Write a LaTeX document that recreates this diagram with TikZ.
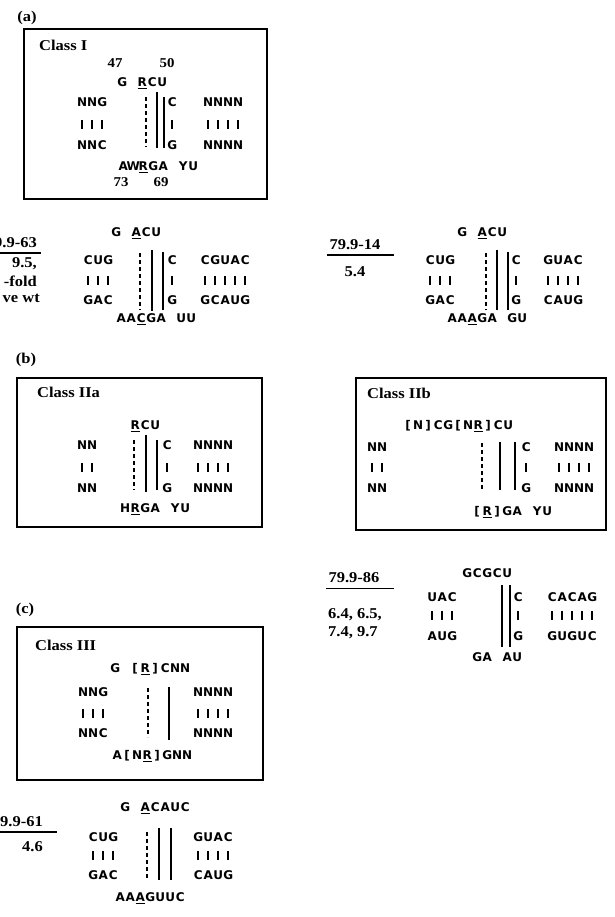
\documentclass[tikz,border=0pt]{standalone}
\usepackage{fontspec}
\usepackage{tikz}
\newfontfamily\seqfont{DejaVu Sans}
\newfontfamily\labfont{Liberation Serif}[FakeStretch=1.1]
% one letter = one cell, so the pair ticks line up under the bases
\newlength\cw \setlength\cw{10pt}
\def\sqstop{\sqstop}
\def\sqloop#1{\ifx\sqstop#1\else\makebox[\cw]{#1}\expandafter\sqloop\fi}
\newcommand\sq[1]{\sqloop#1\sqstop}
\newcommand\tk{\rule[-0.3pt]{2pt}{9pt}}
\newcommand\uln[1]{\setbox0\hbox{#1}\rlap{\rule[-2.6pt]{\wd0}{1.2pt}}\box0}

\begin{document}
\begin{tikzpicture}[x=1pt, y=-1pt,
  seq/.style={font=\seqfont\bfseries\fontsize{12}{14}\selectfont, inner sep=0pt, anchor=west,
    text height=8.7pt, text depth=0pt},
  lab/.style={font=\labfont\bfseries\fontsize{15}{17}\selectfont, inner sep=0pt},
  num/.style={lab, font=\labfont\bfseries\fontsize{13.5}{15}\selectfont},
  frame/.style={draw, line width=1.8pt},
  dotbar/.style={line width=2.4pt, dash pattern=on 4pt off 3pt},
  bar/.style={line width=2pt},
  uline/.style={line width=1.6pt}
]
  \useasboundingbox (0,0) rectangle (614,917);
  \clip (0,0) rectangle (614,917);

  % ---------- (a) ----------
  \node[lab] (pa) at (27,18) {(a)};
  \draw[frame] (24,29) rectangle (267,199);
  \node[lab, anchor=west] (clI) at (39,45) {Class I};
  \node[num] (n47) at (115,63) {47};
  \node[num] (n50) at (167,63) {50};
  \node[seq] (iT) at (117,82) {\sq{G~{\uln R}CU}};
  \node[seq] (iL1) at (77,102) {\sq{NNG}};
  \node[seq] (iM1) at (167,102) {\sq{C}};
  \node[seq] (iR1) at (203,102) {\sq{NNNN}};
  \node[seq] (iL2) at (77,124) {\sq{\tk\tk\tk}};
  \node[seq] (iM2) at (167,124) {\sq{\tk}};
  \node[seq] (iR2) at (203,124) {\sq{\tk\tk\tk\tk}};
  \node[seq] (iL3) at (77,145) {\sq{NNC}};
  \node[seq] (iM3) at (167,145) {\sq{G}};
  \node[seq] (iR3) at (203,145) {\sq{NNNN}};
  \node[seq] (iB) at (118,166) {\sq{AW{\uln R}GA~YU}};
  \node[num] (n73) at (121,182) {73};
  \node[num] (n69) at (161,182) {69};
  \draw[dotbar] (146,97) -- (146,147);
  \draw[bar] (157,92) -- (157,148);
  \draw[bar] (164,97) -- (164,148);

  % mutant 79.9-63
  \node[lab, anchor=east] (m63) at (37,243) {79.9-63};
  \draw[uline] ([xshift=-2pt,yshift=-5pt]m63.south west) -- ([xshift=4pt,yshift=-5pt]m63.south east);
  \node[lab, anchor=east] (m63a) at (37,264) {9.5,};
  \node[lab, anchor=east] (m63b) at (37,281) {-fold};
  \node[lab, anchor=east] (m63c) at (40,298) {ve wt};
  \node[seq] (bT) at (111,232) {\sq{G~{\uln A}CU}};
  \node[seq] (bL1) at (83,260) {\sq{CUG}};
  \node[seq] (bM1) at (167,260) {\sq{C}};
  \node[seq] (bR1) at (200,260) {\sq{CGUAC}};
  \node[seq] (bL2) at (83,280) {\sq{\tk\tk\tk}};
  \node[seq] (bM2) at (167,280) {\sq{\tk}};
  \node[seq] (bR2) at (200,280) {\sq{\tk\tk\tk\tk\tk}};
  \node[seq] (bL3) at (83,300) {\sq{GAC}};
  \node[seq] (bM3) at (167,300) {\sq{G}};
  \node[seq] (bR3) at (200,300) {\sq{GCAUG}};
  \node[seq] (bB) at (116,318) {\sq{AA{\uln C}GA~UU}};
  \draw[dotbar] (140,253) -- (140,310);
  \draw[bar] (152,250) -- (152,311);
  \draw[bar] (163,252) -- (163,310);

  % mutant 79.9-14
  \node[lab] (m14) at (355,245) {79.9-14};
  \draw[uline] ([xshift=-2pt,yshift=-5pt]m14.south west) -- ([xshift=13pt,yshift=-5pt]m14.south east);
  \node[lab] (m14a) at (355,272) {5.4};
  \node[seq] (cT) at (457,232) {\sq{G~{\uln A}CU}};
  \node[seq] (cL1) at (425,260) {\sq{CUG}};
  \node[seq] (cM1) at (511,260) {\sq{C}};
  \node[seq] (cR1) at (543,260) {\sq{GUAC}};
  \node[seq] (cL2) at (425,280) {\sq{\tk\tk\tk}};
  \node[seq] (cM2) at (511,280) {\sq{\tk}};
  \node[seq] (cR2) at (543,280) {\sq{\tk\tk\tk\tk}};
  \node[seq] (cL3) at (425,300) {\sq{GAC}};
  \node[seq] (cM3) at (511,300) {\sq{G}};
  \node[seq] (cR3) at (543,300) {\sq{CAUG}};
  \node[seq] (cB) at (447,318) {\sq{AA{\uln A}GA~GU}};
  \draw[dotbar] (486,253) -- (486,310);
  \draw[bar] (497,250) -- (497,310);
  \draw[bar] (508,252) -- (508,310);

  % ---------- (b) ----------
  \node[lab] (pb) at (26,360) {(b)};
  \draw[frame] (17,378) rectangle (262,527);
  \node[lab, anchor=west] (clIIa) at (37,392) {Class IIa};
  \node[seq] (dT) at (130,425) {\sq{{\uln R}CU}};
  \node[seq] (dL1) at (77,445) {\sq{NN}};
  \node[seq] (dM1) at (162,445) {\sq{C}};
  \node[seq] (dR1) at (193,445) {\sq{NNNN}};
  \node[seq] (dL2) at (77,467) {\sq{\tk\tk}};
  \node[seq] (dM2) at (162,467) {\sq{\tk}};
  \node[seq] (dR2) at (193,467) {\sq{\tk\tk\tk\tk}};
  \node[seq] (dL3) at (77,488) {\sq{NN}};
  \node[seq] (dM3) at (162,488) {\sq{G}};
  \node[seq] (dR3) at (193,488) {\sq{NNNN}};
  \node[seq] (dB) at (120,508) {\sq{H{\uln R}GA~YU}};
  \draw[dotbar] (134,440) -- (134,490);
  \draw[bar] (146,435) -- (146,492);
  \draw[bar] (157,440) -- (157,490);

  \draw[frame] (356,378) rectangle (606,530);
  \node[lab, anchor=west] (clIIb) at (367,393) {Class IIb};
  \node[seq] (eT) at (403,425) {\sq{[N]CG[N{\uln R}]CU}};
  \node[seq] (eL1) at (367,447) {\sq{NN}};
  \node[seq] (eM1) at (521,447) {\sq{C}};
  \node[seq] (eR1) at (554,447) {\sq{NNNN}};
  \node[seq] (eL2) at (367,467) {\sq{\tk\tk}};
  \node[seq] (eM2) at (521,467) {\sq{\tk}};
  \node[seq] (eR2) at (554,467) {\sq{\tk\tk\tk\tk}};
  \node[seq] (eL3) at (367,488) {\sq{NN}};
  \node[seq] (eM3) at (521,488) {\sq{G}};
  \node[seq] (eR3) at (554,488) {\sq{NNNN}};
  \node[seq] (eB) at (472,511) {\sq{[{\uln R}]GA~YU}};
  \draw[dotbar] (482,443) -- (482,490);
  \draw[bar] (500,442) -- (500,490);
  \draw[bar] (515,442) -- (515,490);

  % mutant 79.9-86
  \node[lab] (m86) at (354,578) {79.9-86};
  \draw[uline] ([xshift=-2pt,yshift=-5pt]m86.south west) -- ([xshift=14pt,yshift=-5pt]m86.south east);
  \node[lab, anchor=west] (m86a) at (328,615) {6.4, 6.5,};
  \node[lab, anchor=west] (m86b) at (328,633) {7.4, 9.7};
  \node[seq] (fT) at (462,573) {\sq{GCGCU}};
  \node[seq] (fL1) at (427,597) {\sq{UAC}};
  \node[seq] (fM1) at (513,597) {\sq{C}};
  \node[seq] (fR1) at (547,597) {\sq{CACAG}};
  \node[seq] (fL2) at (427,615) {\sq{\tk\tk\tk}};
  \node[seq] (fM2) at (513,615) {\sq{\tk}};
  \node[seq] (fR2) at (547,615) {\sq{\tk\tk\tk\tk\tk}};
  \node[seq] (fL3) at (427,636) {\sq{AUG}};
  \node[seq] (fM3) at (513,636) {\sq{G}};
  \node[seq] (fR3) at (547,636) {\sq{GUGUC}};
  \node[seq] (fB) at (472,657) {\sq{GA~AU}};
  \draw[bar] (502,585) -- (502,647);
  \draw[bar] (510,585) -- (510,647);

  % ---------- (c) ----------
  \node[lab] (pc) at (25,610) {(c)};
  \draw[frame] (17,627) rectangle (263,780);
  \node[lab, anchor=west] (clIII) at (35,645) {Class III};
  \node[seq] (gT) at (110,668) {\sq{G~[{\uln R}]CNN}};
  \node[seq] (gL1) at (78,692) {\sq{NNG}};
  \node[seq] (gR1) at (193,692) {\sq{NNNN}};
  \node[seq] (gL2) at (78,713) {\sq{\tk\tk\tk}};
  \node[seq] (gR2) at (193,713) {\sq{\tk\tk\tk\tk}};
  \node[seq] (gL3) at (78,733) {\sq{NNC}};
  \node[seq] (gR3) at (193,733) {\sq{NNNN}};
  \node[seq] (gB) at (112,755) {\sq{A[N{\uln R}]GNN}};
  \draw[dotbar] (148,688) -- (148,737);
  \draw[bar] (169,687) -- (169,740);

  % mutant 79.9-61
  \node[lab, anchor=east] (m61) at (43,822) {79.9-61};
  \draw[uline] ([xshift=-2pt,yshift=-5pt]m61.south west) -- ([xshift=14pt,yshift=-5pt]m61.south east);
  \node[lab, anchor=east] (m61a) at (43,847) {4.6};
  \node[seq] (hT) at (120,807) {\sq{G~{\uln A}CAUC}};
  \node[seq] (hL1) at (88,837) {\sq{CUG}};
  \node[seq] (hR1) at (193,837) {\sq{GUAC}};
  \node[seq] (hL2) at (88,855) {\sq{\tk\tk\tk}};
  \node[seq] (hR2) at (193,855) {\sq{\tk\tk\tk\tk}};
  \node[seq] (hL3) at (88,875) {\sq{GAC}};
  \node[seq] (hR3) at (193,875) {\sq{CAUG}};
  \node[seq] (hB) at (115,897) {\sq{AA{\uln A}GUUC}};
  \draw[dotbar] (147,832) -- (147,880);
  \draw[bar] (159,828) -- (159,880);
  \draw[bar] (171,828) -- (171,880);
\end{tikzpicture}
\end{document}
